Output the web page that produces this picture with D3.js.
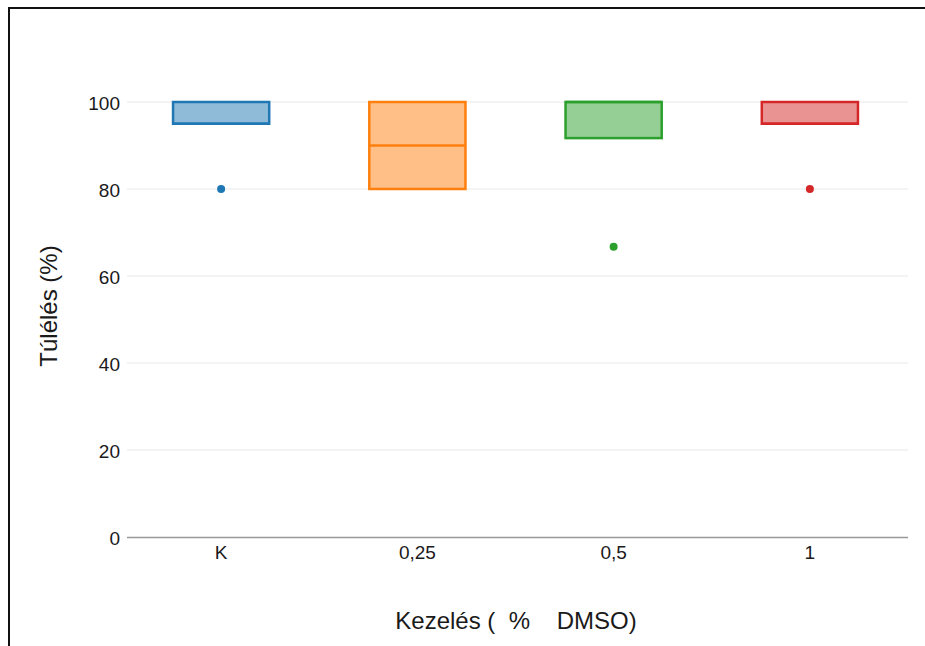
<!DOCTYPE html>
<html>
<head>
<meta charset="utf-8">
<script src="https://cdn.jsdelivr.net/npm/d3@7"></script>
<style>
  body { margin: 0; background: #fff; }
  svg text { font-family: "Liberation Sans", Arial, sans-serif; fill: #1a1a1a; }
</style>
</head>
<body>
<script>
let categories = ["K", "0,25", "0,5", "1"];
let q1 = [95, 80, 91.7, 95];
let median = [95, 90, 100, 95];
let q3 = [100, 100, 100, 100];
let outliers = [[80], [], [66.7], [80]];
let colors = ["#1f77b4", "#ff7f0e", "#2ca02c", "#d62728"];
let yTicks = [0, 20, 40, 60, 80, 100];

function main() {
    let svg = d3.select("body").append("svg")
        .attr("width", 925)
        .attr("height", 646);

    // frame
    svg.append("path")
        .attr("d", "M9,646 V8 H925")
        .attr("fill", "none")
        .attr("stroke", "#111")
        .attr("stroke-width", 2);

    let xScale = d3.scaleBand().domain(categories).range([123, 908]);
    let yScale = d3.scaleLinear().domain([0, 100]).range([537, 102]);

    // grid
    svg.append("g")
        .selectAll("line")
        .data(yTicks.filter(d => d > 0))
        .enter()
        .append("line")
        .attr("x1", 127).attr("x2", 908)
        .attr("y1", d => yScale(d)).attr("y2", d => yScale(d))
        .attr("stroke", "#e8e8e8")
        .attr("stroke-width", 1);

    // y axis labels
    let yAxis = d3.axisLeft(yScale).tickValues(yTicks).tickSize(0).tickPadding(7);
    let yg = svg.append("g")
        .attr("transform", "translate(127,0)")
        .style("font-size", "19px")
        .call(yAxis);
    yg.select(".domain").remove();
    yg.selectAll("text")
        .attr("dy", "0.42em")
        .style("font-family", "'Liberation Sans', Arial, sans-serif")
        .attr("fill", "#1a1a1a");

    // x axis
    let xAxis = d3.axisBottom(xScale).tickSize(0).tickPadding(9);
    let xg = svg.append("g")
        .attr("transform", "translate(0,537)")
        .style("font-size", "19px")
        .call(xAxis);
    xg.select(".domain").remove();
    xg.selectAll("text")
        .style("font-family", "'Liberation Sans', Arial, sans-serif")
        .attr("fill", "#1a1a1a");

    svg.append("line")
        .attr("x1", 127).attr("x2", 908)
        .attr("y1", 537.5).attr("y2", 537.5)
        .attr("stroke", "#999")
        .attr("stroke-width", 1.5);

    let boxW = xScale.bandwidth() * 0.49;

    let boxes = svg.append("g")
        .selectAll("g")
        .data(categories)
        .enter()
        .append("g");

    boxes.append("rect")
        .attr("x", d => xScale(d) + xScale.bandwidth() / 2 - boxW / 2)
        .attr("width", boxW)
        .attr("y", (d, i) => yScale(q3[i]))
        .attr("height", (d, i) => yScale(q1[i]) - yScale(q3[i]))
        .attr("fill", (d, i) => colors[i])
        .attr("fill-opacity", 0.5)
        .attr("stroke", (d, i) => colors[i])
        .attr("stroke-width", 2.5);

    boxes.append("line")
        .attr("x1", d => xScale(d) + xScale.bandwidth() / 2 - boxW / 2)
        .attr("x2", d => xScale(d) + xScale.bandwidth() / 2 + boxW / 2)
        .attr("y1", (d, i) => yScale(median[i]))
        .attr("y2", (d, i) => yScale(median[i]))
        .attr("stroke", (d, i) => colors[i])
        .attr("stroke-width", 2.5);

    boxes.each(function (d, i) {
        d3.select(this).selectAll("circle")
            .data(outliers[i])
            .enter()
            .append("circle")
            .attr("cx", xScale(d) + xScale.bandwidth() / 2)
            .attr("cy", v => yScale(v))
            .attr("r", 4)
            .attr("fill", colors[i]);
    });

    svg.append("text")
        .attr("transform", "translate(51, 306) rotate(-90)")
        .attr("text-anchor", "middle")
        .attr("dominant-baseline", "middle")
        .style("font-size", "24px")
        .text("Túlélés (%)");

    svg.append("text")
        .attr("x", 516)
        .attr("y", 629)
        .attr("text-anchor", "middle")
        .attr("xml:space", "preserve")
        .style("white-space", "pre")
        .style("font-size", "24px")
        .text("Kezelés (  %    DMSO)");
}

main()
</script>
</body>
</html>
